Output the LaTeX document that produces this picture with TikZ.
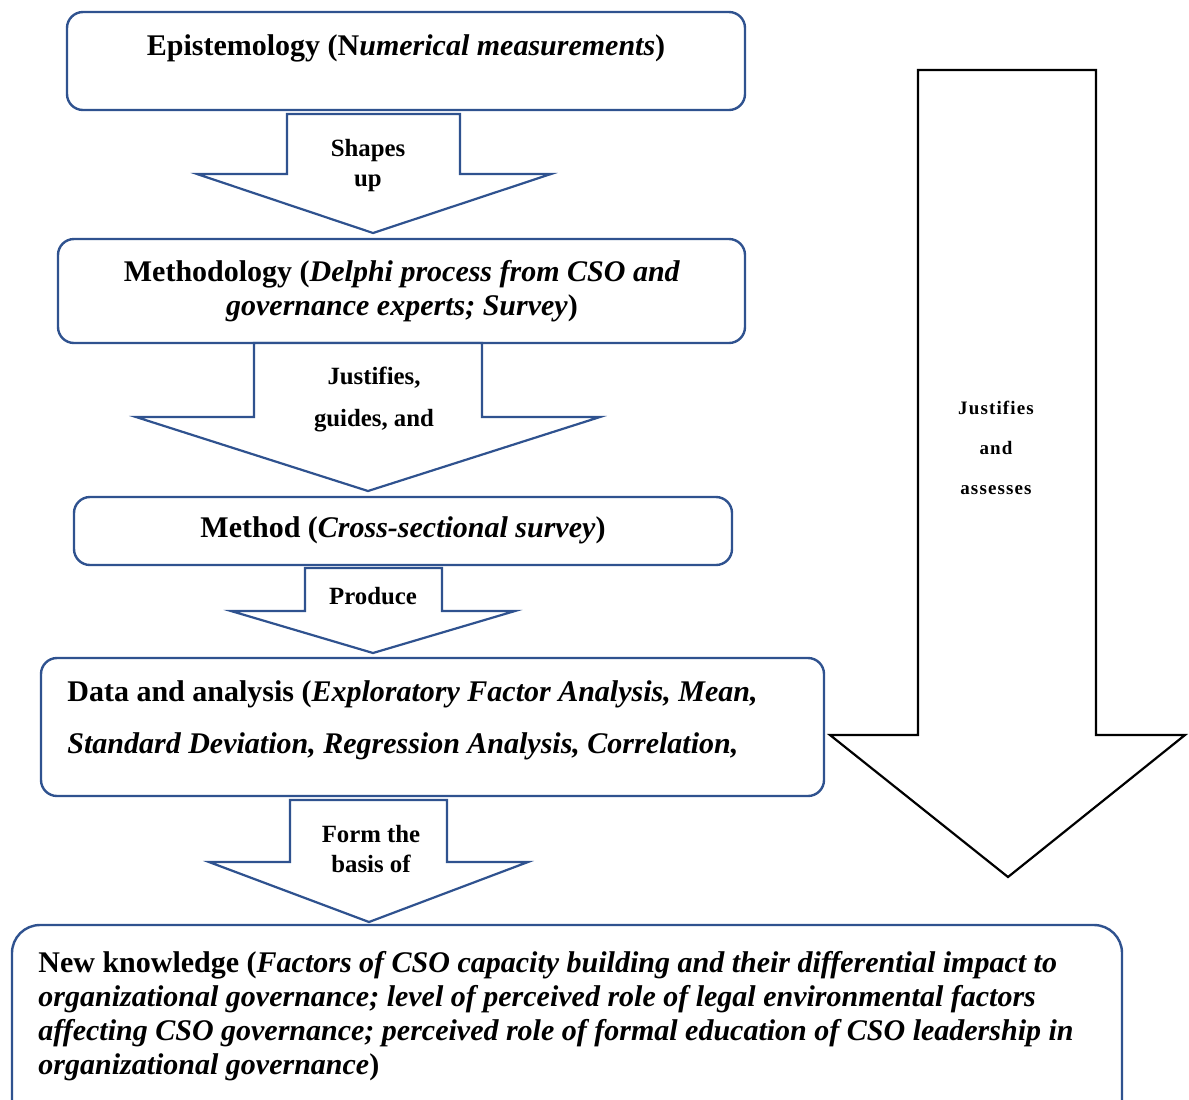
\documentclass[tikz,border=0pt]{standalone}
\usepackage{fontspec}
\setmainfont{Liberation Serif}
\usetikzlibrary{positioning,fit}
\definecolor{boxblue}{RGB}{47,82,143}
\tikzset{
	stage/.style={draw=boxblue, line width=1.2pt, rounded corners=8pt, fill=white, inner sep=0},
	stagetxt/.style={font=\fontsize{15}{17}\selectfont\bfseries, inner sep=0},
	flow/.style={draw=boxblue, line width=1.1pt, fill=white},
	flowtxt/.style={font=\fontsize{12.4}{15}\selectfont\bfseries, align=center, inner sep=0},
	bigflow/.style={draw=black, line width=1.1pt, fill=white},
	bigtxt/.style={font=\fontsize{9.5}{20}\selectfont\bfseries\addfontfeatures{LetterSpace=6}, align=center, inner sep=0}
}

\begin{document}
\begin{tikzpicture}[x=0.5pt,y=-0.5pt]
	\useasboundingbox (0,0) rectangle (1189,1099);
	\clip (0,0) rectangle (1189,1099);
	
	%%%% big arrow on the right
	\draw[bigflow] (918,70) -- (1096,70) -- (1096,735) -- (1185,735) -- (1008,877) -- (830,735) -- (918,735) -- cycle;
	\node[bigtxt] (jaa) at (996,448) {Justifies\\and\\assesses};
	
	%%%% stages
	\node[stage, fit={(67,12) (745,110)}] (epi) {};
	\node[stagetxt] (epitxt) at (406,48) {Epistemology (N\textit{umerical measurements})};
	
	\node[stage, fit={(58,239) (745,343)}] (meth) {};
	\node[stagetxt, align=center] (methtxt) at (402,291) {Methodology (\textit{Delphi process from CSO and}\\\textit{governance experts; Survey})};
	
	\node[stage, fit={(74,497) (732,565)}] (mthd) {};
	\node[stagetxt] (mthdtxt) at (403,530) {Method (\textit{Cross-sectional survey})};
	
	\node[stage, fit={(41,658) (824,796)}] (data) {};
	\node[stagetxt, align=left, anchor=west] (datatxt) at (67,720) {Data and analysis (\textit{Exploratory Factor Analysis, Mean,}\\[9pt]\textit{Standard Deviation, Regression Analysis, Correlation,}};
	
	\node[stage, rounded corners=14pt, fit={(12,925) (1122,1135)}] (know) {};
	\node[stagetxt, align=left, anchor=west] (knowtxt) at (38,1016) {New knowledge (\textit{Factors of CSO capacity building and their differential impact to}\\\textit{organizational governance; level of perceived role of legal environmental factors}\\\textit{affecting CSO governance; perceived role of formal education of CSO leadership in}\\\textit{organizational governance})};
	
	%%%% arrows between stages
	\draw[flow] (287,114) -- (460,114) -- (460,174) -- (551,174) -- (373,233) -- (197,174) -- (287,174) -- cycle;
	\node[flowtxt] (shp) at (368,166) {Shapes\\up};
	
	\draw[flow] (254,343) -- (482,343) -- (482,417) -- (600,417) -- (368,491) -- (136,417) -- (254,417) -- cycle;
	\node[flowtxt] (jus) at (374,378) {Justifies,};
	\node[flowtxt] (gui) at (374,421) {guides, and};
	
	\draw[flow] (305,568) -- (442,568) -- (442,611) -- (515,611) -- (373,653) -- (231,611) -- (305,611) -- cycle;
	\node[flowtxt] (prd) at (373,596) {Produce};
	
	\draw[flow] (290,800) -- (447,800) -- (447,862) -- (528,862) -- (369,922) -- (209,862) -- (290,862) -- cycle;
	\node[flowtxt] (frm) at (371,849) {Form the\\basis of};
\end{tikzpicture}
\end{document}
